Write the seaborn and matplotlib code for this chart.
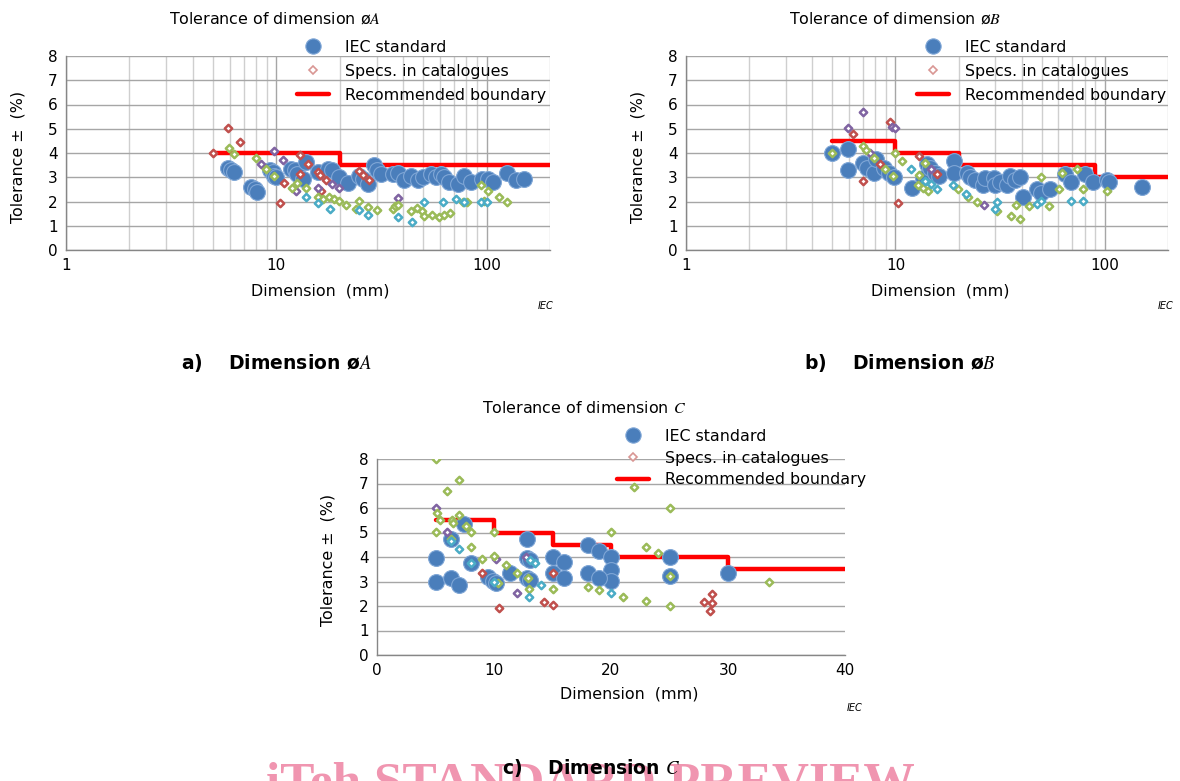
import matplotlib
matplotlib.use("Agg")
import matplotlib.pyplot as plt
import matplotlib.ticker as mticker
from matplotlib.lines import Line2D
import seaborn as sns

# ---------------- data ----------------
# Panel a: dimension ØA (log x)
a_iec_x = [5.9, 6.1, 6.3, 7.6, 7.9, 8.1, 9.3, 9.6, 9.8, 10.0, 11.8, 12.2, 12.6, 13.4, 13.9,
           15.8, 17.7, 18.4, 19.9, 21.9, 24.8, 25.7, 27.2, 29.0, 30.2, 31.3, 35.7, 37.8, 40.6,
           43.7, 47.0, 49.6, 54.4, 57.5, 60.8, 63.0, 66.5, 72.8, 78.3, 84.2, 94.5, 101.3, 107.0,
           124.8, 137.6, 150.6]
a_iec_y = [3.4, 3.3, 3.2, 2.6, 2.5, 2.4, 3.3, 3.2, 3.05, 3.0, 3.35, 3.28, 3.15, 2.94, 3.63,
           3.2, 3.35, 3.28, 3.03, 2.76, 3.07, 2.94, 2.73, 3.5, 3.28, 3.15, 3.12, 3.17, 2.9,
           3.07, 2.9, 3.0, 3.12, 3.0, 3.15, 3.0, 2.8, 2.73, 3.07, 2.8, 2.94, 2.94, 2.8,
           3.19, 2.87, 2.94]
a_red_x = [5.0, 5.9, 6.75, 10.4, 10.9, 12.9, 12.9, 14.1, 15.7, 16.1, 16.3, 17.3, 24.8, 25.7, 27.7]
a_red_y = [4.0, 5.03, 4.45, 1.95, 2.76, 3.9, 3.15, 3.53, 3.2, 3.1, 2.45, 2.87, 3.25, 3.1, 2.87]
a_purple_x = [8.5, 9.8, 10.8, 12.4, 15.7, 18.3, 19.8, 37.7]
a_purple_y = [3.53, 4.08, 3.7, 2.43, 2.55, 2.73, 2.55, 2.14]
a_green_x = [5.95, 6.3, 7.97, 8.96, 9.8, 11.9, 12.6, 13.8, 15.7, 16.7, 17.8, 18.7, 19.8, 21.5,
             23.9, 24.8, 27.4, 30.2, 35.7, 36.8, 38.0, 43.6, 46.4, 49.5, 50.5, 55.1, 59.3, 62.7,
             67.0, 76.9, 81.0, 94.2, 97.6, 101.3, 114.5, 125.3]
a_green_y = [4.2, 3.97, 3.79, 3.35, 3.05, 2.55, 2.76, 2.55, 2.2, 2.11, 2.2, 2.11, 2.04, 1.86,
             1.7, 2.04, 1.79, 1.66, 1.7, 1.83, 1.87, 1.6, 1.72, 1.6, 1.39, 1.46, 1.38, 1.46,
             1.51, 1.97, 1.97, 2.66, 2.04, 2.45, 2.18, 1.97]
a_cyan_x = [13.9, 15.7, 17.9, 24.8, 27.4, 37.8, 44.1, 50.5, 62.0, 71.6, 78.3, 94.2, 100.0]
a_cyan_y = [2.18, 1.93, 1.7, 1.66, 1.46, 1.38, 1.17, 2.0, 1.96, 2.11, 2.0, 2.0, 2.0]
a_bound_x = [5, 20, 200]
a_bound_y = [4.0, 3.5, 3.5]

# Panel b: dimension ØB (log x)
b_iec_x = [5.0, 5.96, 5.96, 7.0, 7.33, 7.87, 8.03, 8.8, 9.3, 9.8, 12.0, 13.6, 14.1, 14.6, 15.5,
           16.1, 19.1, 19.1, 21.9, 22.7, 23.9, 26.2, 26.7, 29.6, 29.8, 31.5, 33.9, 35.2, 37.2,
           39.3, 40.7, 47.5, 49.6, 54.9, 64.5, 68.8, 80.0, 88.0, 102.8, 104.8, 150.8]
b_iec_y = [4.0, 4.15, 3.3, 3.58, 3.4, 3.16, 3.74, 3.37, 3.16, 3.02, 2.54, 2.96, 3.55, 3.37, 3.19,
           3.05, 3.67, 3.16, 3.16, 3.02, 2.89, 2.68, 2.96, 2.96, 2.68, 2.82, 2.68, 3.05, 2.89,
           3.02, 2.2, 2.5, 2.36, 2.5, 3.13, 2.82, 3.13, 2.82, 2.89, 2.82, 2.61]
b_red_x = [6.28, 7.0, 8.4, 9.4, 10.3, 12.9, 15.7]
b_red_y = [4.78, 2.86, 3.55, 5.29, 1.95, 3.88, 3.13]
b_purple_x = [5.96, 7.0, 7.55, 9.6, 10.0, 14.8, 26.6]
b_purple_y = [5.02, 5.7, 3.99, 5.08, 5.02, 3.33, 1.86]
b_green_x = [5.0, 7.0, 7.2, 7.9, 8.9, 9.7, 10.0, 10.8, 12.9, 13.8, 12.8, 13.6, 14.3, 19.8, 22.3,
             24.6, 30.6, 35.6, 39.3, 37.6, 43.5, 49.6, 54.2, 60.3, 62.3, 73.4, 78.3, 102.0]
b_green_y = [4.0, 4.29, 4.12, 3.78, 3.33, 3.05, 4.0, 3.67, 3.09, 3.6, 2.68, 2.54, 2.45, 2.52, 2.2,
             2.0, 1.62, 1.42, 1.28, 1.86, 1.83, 3.0, 1.83, 2.5, 3.19, 3.33, 2.52, 2.43]
b_cyan_x = [11.8, 13.8, 14.8, 15.7, 18.9, 21.7, 29.7, 30.6, 47.5, 49.6, 68.5, 78.5]
b_cyan_y = [3.34, 2.84, 2.71, 2.52, 2.68, 2.3, 1.69, 1.97, 1.9, 2.02, 2.02, 2.02]
b_bound_x = [5, 10, 20, 90, 200]
b_bound_y = [4.5, 4.0, 3.5, 3.0, 3.0]

# Panel c: dimension C (linear x)
c_iec_x = [5.0, 5.0, 6.3, 6.3, 7.0, 7.4, 8.0, 9.5, 9.9, 10.2, 11.4, 12.8, 12.8, 13.05, 12.8,
           13.05, 15.0, 15.0, 16.0, 16.0, 18.0, 19.0, 20.0, 20.0, 20.0, 18.0, 19.0, 25.0, 25.0, 30.0]
c_iec_y = [3.95, 3.0, 4.73, 3.16, 2.86, 5.34, 3.75, 3.18, 3.04, 2.93, 3.34, 4.74, 3.95, 3.88, 3.13,
           3.08, 3.99, 3.34, 3.81, 3.13, 4.5, 4.25, 3.99, 3.47, 3.02, 3.34, 3.16, 3.99, 3.23, 3.34]
c_red_x = [9.0, 10.4, 14.3, 15.0, 15.0, 27.95, 28.6, 28.6, 28.5]
c_red_y = [3.34, 1.93, 2.15, 2.04, 3.34, 2.18, 2.48, 2.14, 1.8]
c_purple_x = [5.0, 6.0, 10.2, 12.0, 12.7]
c_purple_y = [6.02, 5.02, 3.91, 2.55, 3.98]
c_green_x = [5.0, 5.16, 5.42, 5.0, 6.0, 6.41, 6.5, 7.0, 6.98, 7.64, 8.0, 8.0, 9.0, 10.0, 10.0,
             11.0, 10.3, 12.0, 13.0, 12.9, 15.0, 22.0, 20.0, 21.0, 25.0, 23.0, 24.0, 18.0, 19.0,
             23.0, 25.0, 25.0, 33.5, 6.36]
c_green_y = [8.0, 5.79, 5.49, 5.02, 6.7, 5.52, 5.38, 7.15, 5.72, 5.25, 5.02, 4.39, 3.91, 4.05, 5.02,
             3.68, 2.93, 3.34, 2.69, 3.16, 2.7, 6.84, 5.02, 2.38, 6.02, 4.39, 4.18, 2.79, 2.66,
             2.19, 2.02, 3.23, 3.0, 4.73]
c_cyan_x = [7.0, 6.36, 8.0, 10.0, 13.05, 13.54, 13.0, 14.0, 20.0]
c_cyan_y = [4.32, 4.67, 3.77, 3.0, 3.88, 3.75, 2.36, 2.86, 2.55]
c_bound_x = [5, 10, 15, 20, 30, 40]
c_bound_y = [5.5, 5.0, 4.5, 4.0, 3.5, 3.5]

legend_labels = ["IEC standard", "Specs. in catalogues", "Recommended boundary"]

# ---------------- style ----------------
sns.set_style("white")
plt.rcParams["font.family"] = ["DejaVu Sans"]
plt.rcParams["mathtext.fontset"] = "stix"
plt.rcParams["text.color"] = "black"
plt.rcParams["axes.labelcolor"] = "black"

IEC_BLUE = "#4a7ebb"
RED = "#c0504d"
PURPLE = "#8064a2"
GREEN = "#9bbb59"
CYAN = "#4bacc6"
LINE_RED = "#ff0000"
GRID = "#a6a6a6"
GRID_MINOR = "#cfcfcf"
SPINE = "#868686"
FS = 11.4
TFS = 11

fig = plt.figure(figsize=(11.8, 7.81), dpi=100)
W, H = 1180.0, 781.0


def ax_at(l, r, t, b):
    return fig.add_axes([l / W, 1 - b / H, (r - l) / W, (b - t) / H])


def draw_panel(ax, iec_x, iec_y, cats, bx, by, logx):
    if logx:
        ax.set_xscale("log")
    sns.lineplot(x=bx, y=by, ax=ax, color=LINE_RED, lw=3.2, drawstyle="steps-post",
                 estimator=None, sort=False, zorder=3)
    sns.scatterplot(x=iec_x, y=iec_y, ax=ax, s=130, color=IEC_BLUE, edgecolor="#7fa6d6",
                    linewidth=0.8, zorder=4)
    for cx, cy, col in cats:
        sns.scatterplot(x=cx, y=cy, ax=ax, marker="D", s=14, facecolor="white",
                        edgecolor=col, linewidth=1.8, zorder=5)
    ax.set_ylim(0, 8)
    ax.set_yticks(range(0, 9))
    ax.grid(True, which="major", axis="y", color=GRID, lw=1.0, zorder=0)
    if logx:
        ax.set_xlim(1, 200)
        ax.xaxis.set_major_locator(mticker.LogLocator(base=10))
        ax.xaxis.set_minor_locator(mticker.LogLocator(base=10, subs=range(2, 10)))
        ax.xaxis.set_major_formatter(mticker.FuncFormatter(lambda v, p: f"{v:g}"))
        ax.xaxis.set_minor_formatter(mticker.NullFormatter())
        ax.grid(True, which="major", axis="x", color=GRID, lw=1.0, zorder=0)
        ax.grid(True, which="minor", axis="x", color=GRID_MINOR, lw=1.0, zorder=0)
    else:
        ax.set_xlim(0, 40)
        ax.set_xticks([0, 10, 20, 30, 40])
    for s in ("top", "right"):
        ax.spines[s].set_visible(False)
    for s in ("left", "bottom"):
        ax.spines[s].set_color(SPINE)
        ax.spines[s].set_linewidth(1.0)
    ax.tick_params(axis="both", which="major", length=4, color=SPINE, labelsize=TFS,
                   labelcolor="black", pad=2)
    ax.tick_params(axis="x", which="minor", length=0)
    ax.set_axisbelow(True)
    ax.set_xlabel("Dimension  (mm)", fontsize=FS)
    ax.set_ylabel("Tolerance \u00b1  (%)", fontsize=FS)


def add_legend(ax, x0, ytop, spacing):
    handles = [
        Line2D([], [], ls="none", marker="o", ms=11, color=IEC_BLUE, mec="#7fa6d6", mew=0.8),
        Line2D([], [], ls="none", marker="D", ms=3.6, mfc="white", mec="#d99694", mew=1.2),
        Line2D([], [], color=LINE_RED, lw=3.2),
    ]
    ax.legend(handles, legend_labels, loc="upper left", bbox_to_anchor=(x0 / W, 1 - ytop / H),
              bbox_transform=fig.transFigure, frameon=False, fontsize=FS, borderaxespad=0,
              borderpad=0, handlelength=2.0, handletextpad=1.05, labelspacing=spacing,
              labelcolor="black")


# panel a
axa = ax_at(66, 550, 56, 250)
draw_panel(axa, a_iec_x, a_iec_y,
           [(a_red_x, a_red_y, RED), (a_purple_x, a_purple_y, PURPLE),
            (a_green_x, a_green_y, GREEN), (a_cyan_x, a_cyan_y, CYAN)],
           a_bound_x, a_bound_y, True)
axa.xaxis.set_label_coords(0.525, -0.175)
axa.yaxis.set_label_coords(-0.083, 0.48)
add_legend(axa, 297, 40, 0.56)

# panel b
axb = ax_at(686, 1168, 56, 250)
draw_panel(axb, b_iec_x, b_iec_y,
           [(b_red_x, b_red_y, RED), (b_purple_x, b_purple_y, PURPLE),
            (b_green_x, b_green_y, GREEN), (b_cyan_x, b_cyan_y, CYAN)],
           b_bound_x, b_bound_y, True)
axb.xaxis.set_label_coords(0.527, -0.175)
axb.yaxis.set_label_coords(-0.083, 0.48)
add_legend(axb, 917, 40, 0.56)

# panel c
axc = ax_at(377, 845, 459, 655)
draw_panel(axc, c_iec_x, c_iec_y,
           [(c_red_x, c_red_y, RED), (c_purple_x, c_purple_y, PURPLE),
            (c_green_x, c_green_y, GREEN), (c_cyan_x, c_cyan_y, CYAN)],
           c_bound_x, c_bound_y, False)
axc.xaxis.set_label_coords(0.54, -0.16)
axc.yaxis.set_label_coords(-0.088, 0.485)
add_legend(axc, 617, 429, 0.42)

# titles
fig.text(275 / W, 1 - 19 / H, "Tolerance of dimension \u00f8$A$", ha="center", va="center", fontsize=FS)
fig.text(895 / W, 1 - 19 / H, "Tolerance of dimension \u00f8$B$", ha="center", va="center", fontsize=FS)
fig.text(584 / W, 1 - 408 / H, "Tolerance of dimension $C$", ha="center", va="center", fontsize=FS)

# IEC marks
for x, y in [(553, 306), (1173, 306), (862, 708)]:
    fig.text(x / W, 1 - y / H, "IEC", ha="right", va="center", fontsize=7, style="italic")

# watermark (behind captions)
fig.text(0.5, -16 / H, "iTeh STANDARD PREVIEW", ha="center", va="baseline", fontsize=37,
         family="Liberation Serif", weight="bold", color="#f095b0", zorder=0)

# captions
fig.text(276 / W, 1 - 363 / H, "a)    Dimension \u00f8$\\mathbf{\\mathit{A}}$", ha="center", va="center",
         fontsize=13.5, weight="bold", zorder=2)
fig.text(900 / W, 1 - 363 / H, "b)    Dimension \u00f8$\\mathbf{\\mathit{B}}$", ha="center", va="center",
         fontsize=13.5, weight="bold", zorder=2)
fig.text(591 / W, 1 - 768 / H, "c)    Dimension $\\mathbf{\\mathit{C}}$", ha="center", va="center",
         fontsize=13.5, weight="bold", zorder=2)

fig.savefig("out.png", dpi=100)
